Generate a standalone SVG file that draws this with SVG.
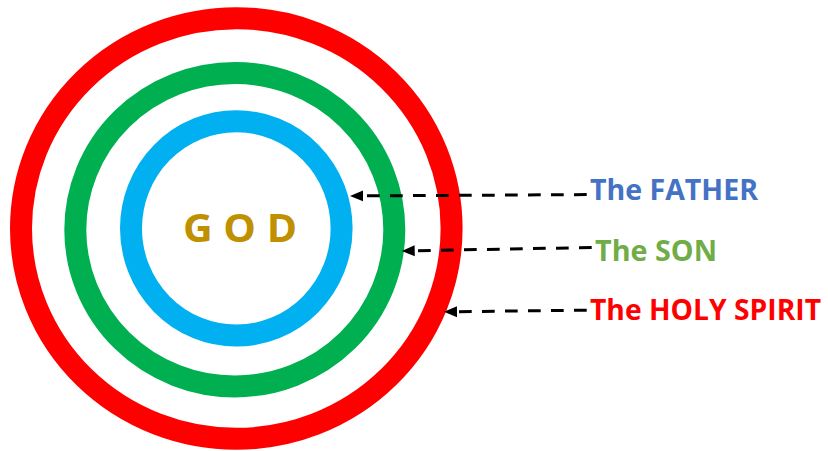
<svg xmlns="http://www.w3.org/2000/svg" width="828" height="451" viewBox="0 0 828 451">
  <style>
    .ring { fill: none; stroke-width: 22; }
    .lbl { font-family: "Open Sans", "Liberation Sans", sans-serif; font-weight: bold; font-size: 29px; }
    .conn { fill: none; stroke: #000; stroke-width: 3; stroke-dasharray: 12.7 10.3; stroke-linecap: butt; }
  </style>
  <defs>
    <marker id="ah" markerUnits="userSpaceOnUse" markerWidth="16" markerHeight="14" viewBox="0 -7 16 14" refX="3" refY="0" orient="auto">
      <path d="M0,-5.5 L13,0 L0,5.5 z" fill="#000"/>
    </marker>
  </defs>
  <rect width="828" height="451" fill="#fff"/>
  <g id="holy-spirit-ring">
    <ellipse class="ring" cx="236.3" cy="228.5" rx="215.3" ry="210.3" stroke="#FF0000"/>
  </g>
  <g id="son-ring">
    <ellipse class="ring" cx="234.8" cy="229.7" rx="159.5" ry="156.7" stroke="#00B050"/>
  </g>
  <g id="father-ring">
    <ellipse class="ring" cx="236.3" cy="228.4" rx="105.3" ry="107.2" stroke="#00B0F0"/>
  </g>
  <g id="god">
    <text x="183" y="241.7" font-family="'Open Sans', 'Liberation Sans', sans-serif" font-weight="bold" font-size="40" fill="#BF9000" textLength="114" lengthAdjust="spacingAndGlyphs">G O D</text>
  </g>
  <g id="connectors">
    <path class="conn" d="M586.7,194.6 L360,195.9" marker-end="url(#ah)"/>
    <path class="conn" d="M591.7,247.5 L411.7,250.8" marker-end="url(#ah)"/>
    <path class="conn" d="M586.7,310.2 L454,311.7" marker-end="url(#ah)"/>
  </g>
  <g id="label-father">
    <text class="lbl" x="590" y="200" fill="#4472C4" textLength="168" lengthAdjust="spacingAndGlyphs">The FATHER</text>
  </g>
  <g id="label-son">
    <text class="lbl" x="595" y="260.5" fill="#70AD47" textLength="122" lengthAdjust="spacingAndGlyphs">The SON</text>
  </g>
  <g id="label-holy-spirit">
    <text class="lbl" x="590" y="320" fill="#FF0000" textLength="231" lengthAdjust="spacingAndGlyphs">The HOLY SPIRIT</text>
  </g>
</svg>
